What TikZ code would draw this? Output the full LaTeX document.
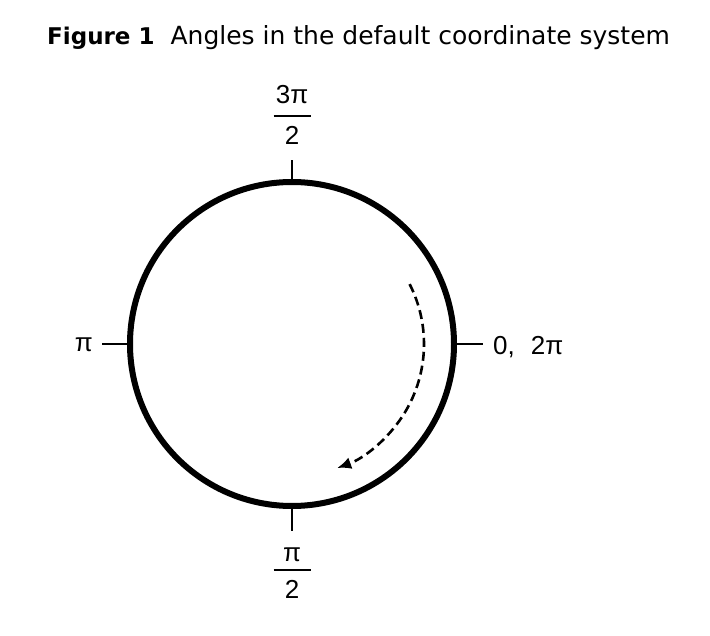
\documentclass[tikz,border=0pt]{standalone}
\usepackage{fontspec}
\setmainfont{Liberation Sans}
\newfontfamily\titlefont{DejaVu Sans}
\usetikzlibrary{
    arrows.meta,
    calc,
    positioning
}
\tikzset{
    rim/.style={line width=6pt, black},
    tick/.style={line width=2.2pt, black},
    dasharrow/.style={line width=2.6pt, dash pattern=on 9pt off 5pt,
        -{Latex[length=14pt, width=12pt]}},
    angle/.style={font=\fontsize{26}{30}\selectfont, inner sep=0pt},
    caption/.style={font=\titlefont\fontsize{25}{28}\selectfont, anchor=base west, inner sep=0pt}
}
\newcommand{\fracbar}{\rule{37pt}{2.4pt}}

\begin{document}
\begin{tikzpicture}[x=1pt, y=-1pt]
    \useasboundingbox (0,0) rectangle (710,636);
    \node[caption] (title) at (47,45) {{\fontsize{23}{28}\selectfont\bfseries Figure 1}\hspace{16pt}Angles in the default coordinate system};

    % the circle and its four ticks
    \coordinate (ctr) at (292,344);
    \draw[rim] (ctr) circle[radius=162];
    \coordinate (east) at (454,344);
    \coordinate (south) at (292,506);
    \coordinate (west) at (130,344);
    \coordinate (north) at (292,182);
    \coordinate (eastend) at (483,344);
    \coordinate (southend) at (292,531);
    \coordinate (westend) at (102,344);
    \coordinate (northend) at (292,160);

    \node[angle, anchor=west] (zero) at (493,347) {0,\hspace{16pt}2π};
    \node[angle, anchor=east] (pi) at (93,345) {π};
    \node[angle] (half) at (292,570) {\fracbar};
    \node[angle] (threehalf) at (292,116) {\fracbar};

    \node[angle, above=7pt of half] (halfnum) {π};
    \node[angle, below=9pt of half] (halfden) {2};
    \node[angle, above=11pt of threehalf] (thnum) {3π};
    \node[angle, below=9pt of threehalf] (thden) {2};

    \draw[tick] (east) -- (eastend);
    \draw[tick] (south) -- (southend);
    \draw[tick] (west) -- (westend);
    \draw[tick] (north) -- (northend);

    % direction of increasing angle
    \draw[dasharrow] ($(ctr)+(-27:132)$) arc[start angle=-27, end angle=70, radius=132];
\end{tikzpicture}
\end{document}
